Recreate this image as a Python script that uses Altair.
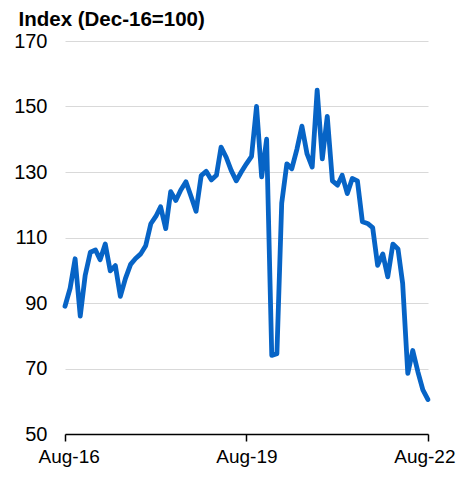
import altair as alt
import pandas as pd

start_year, start_month = 2016, 8
values = [
    89, 94.5, 103.5, 86, 98.5, 105.5, 106.2, 103.2, 108, 99.8,
    101.4, 92, 97.5, 101.8, 103.6, 105, 107.5, 114.2, 116.5, 119.4,
    112.7, 124, 121.3, 124.5, 127, 122.5, 118, 128.9, 130.2, 127.6,
    129, 137.6, 134.5, 130.5, 127.3, 130, 132.5, 134.8, 150, 128.5,
    140, 74, 74.5, 120.5, 132.5, 131, 137, 144, 135.5, 131.5,
    155, 134, 147, 127.3, 126, 129, 123.4, 128, 127.3, 114.8,
    114.3, 113, 101.5, 105, 98, 108, 106.5, 96, 68.5, 75.5,
    69, 63.5, 60.5,
]

dates = []
for i in range(len(values)):
    m = start_month - 1 + i
    dates.append(f"{start_year + m // 12:04d}-{m % 12 + 1:02d}-01")

y_ticks = [50, 70, 90, 110, 130, 150, 170]
x_ticks = ["2016-08-01", "2019-08-01", "2022-08-01"]

df = pd.DataFrame({"date": dates, "value": values})

def dt(s):
    y, m, d = s.split("-")
    return alt.DateTime(year=int(y), month=int(m), date=int(d), utc=True)

FONT = "Liberation Sans"

chart = alt.Chart(df).mark_line(
    color="#0764c6", strokeWidth=4.8, strokeJoin="round", strokeCap="round"
).encode(
    x=alt.X(
        "date:T",
        scale=alt.Scale(type="utc", domain=[dt(x_ticks[0]), dt(x_ticks[-1])]),
        axis=alt.Axis(
            values=[dt(s) for s in x_ticks],
            format="%b-%y",
            title=None,
            grid=False,
            domainColor="black",
            domainWidth=1.5,
            tickColor="black",
            tickWidth=1.5,
            tickSize=7,
            labelPadding=6,
            labelFont=FONT,
            labelFontSize=19,
            labelColor="black",
            labelFlush=True,
            labelFlushOffset=27,
        ),
    ),
    y=alt.Y(
        "value:Q",
        scale=alt.Scale(domain=[50, 170], nice=False, zero=False),
        axis=alt.Axis(
            values=y_ticks,
            title="Index (Dec-16=100)",
            titleAngle=0,
            titleAlign="left",
            titleBaseline="top",
            titleX=-47,
            titleY=-32,
            titleFont=FONT,
            titleFontSize=20.5,
            titleFontWeight="bold",
            titleColor="black",
            domain=False,
            ticks=False,
            tickSize=0,
            labelPadding=18,
            labelFont=FONT,
            labelFontSize=20,
            labelColor="black",
            gridColor="#d9d9d9",
            gridWidth=1.2,
        ),
    ),
).properties(
    width=363,
    height=393,
    autosize=alt.AutoSizeParams(type="none"),
    padding={"left": 57, "top": 33, "right": 28, "bottom": 33},
).configure_view(stroke=None)

chart.save("out.html", embed_options={"renderer": "svg", "actions": False})
